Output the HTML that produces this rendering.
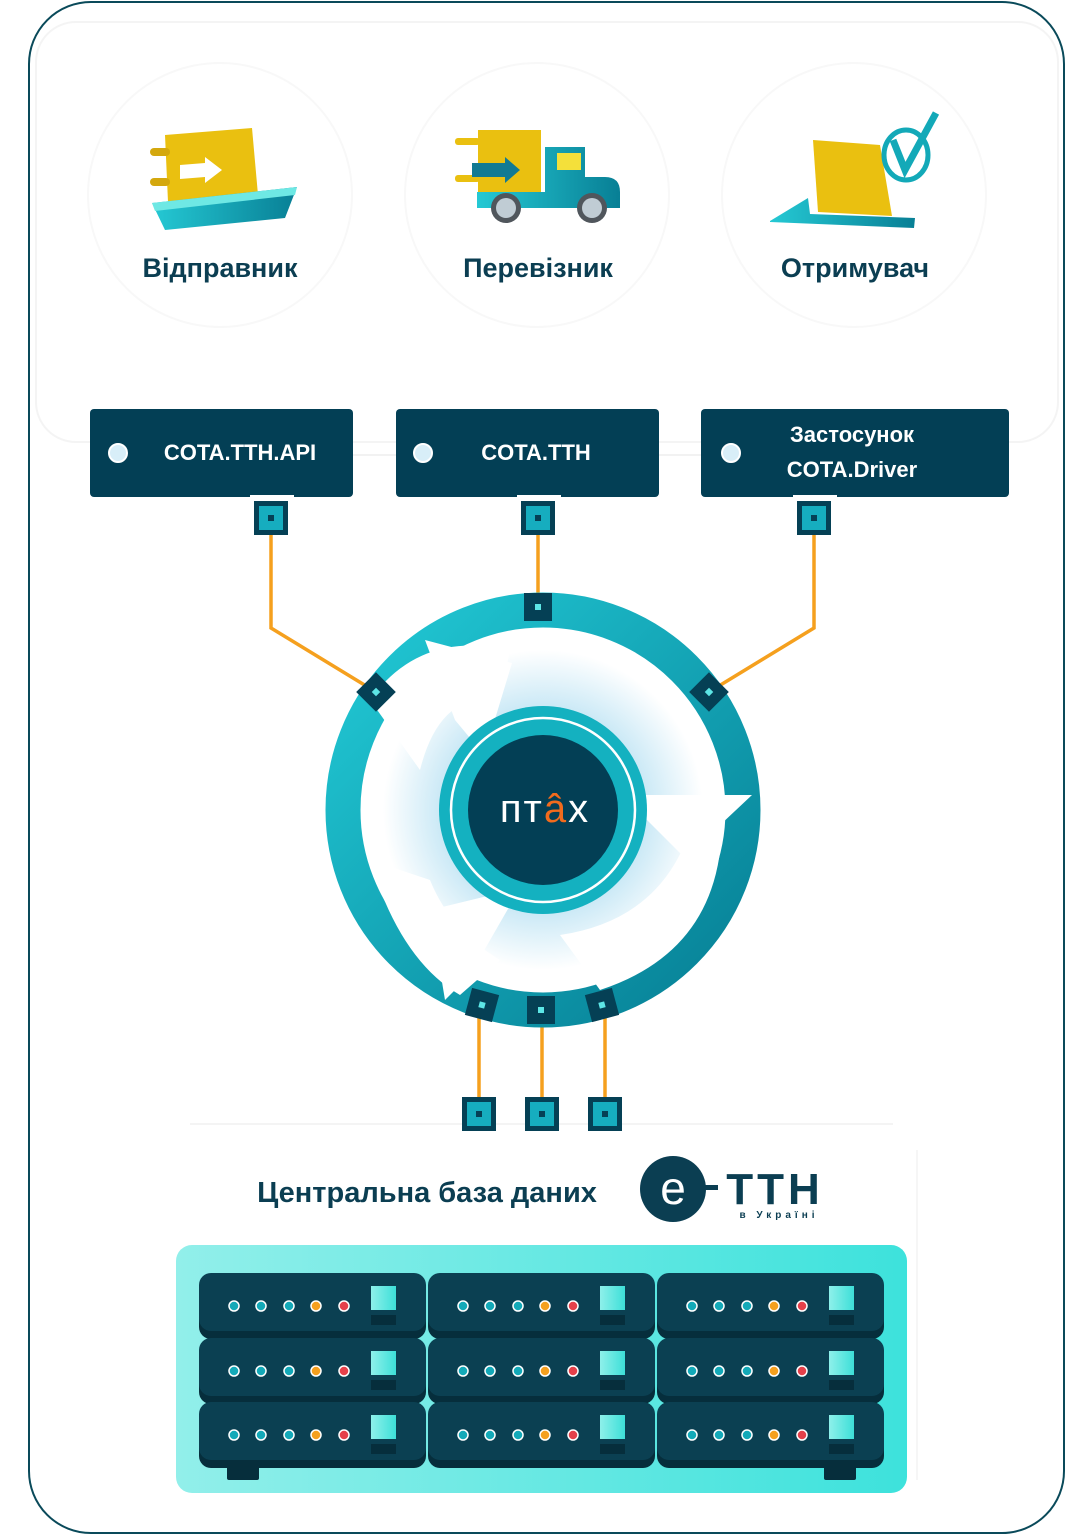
<!DOCTYPE html>
<html><head><meta charset="utf-8"><style>
html,body{margin:0;padding:0;background:#fff;}
svg{display:block}
text{font-family:"Liberation Sans","DejaVu Sans",sans-serif;}
</style></head><body>
<svg width="1092" height="1536" viewBox="0 0 1092 1536" xmlns="http://www.w3.org/2000/svg">
<defs>
<linearGradient id="ring" x1="0" y1="0" x2="1" y2="1"><stop offset="0" stop-color="#22cad6"/><stop offset="1" stop-color="#067e94"/></linearGradient>
<linearGradient id="panel" x1="0" y1="0" x2="1" y2="0"><stop offset="0" stop-color="#92efea"/><stop offset="1" stop-color="#3de2dc"/></linearGradient>
<linearGradient id="scr" x1="0" y1="0" x2="1" y2="0"><stop offset="0" stop-color="#8ef0ea"/><stop offset="1" stop-color="#3ddfd8"/></linearGradient>
<radialGradient id="glow" cx="0.5" cy="0.5" r="0.5"><stop offset="0.45" stop-color="#bfe4f4"/><stop offset="0.8" stop-color="#fff"/></radialGradient>
<linearGradient id="teal" x1="0" y1="0" x2="1" y2="0"><stop offset="0" stop-color="#25c9d4"/><stop offset="1" stop-color="#087f95"/></linearGradient>
<g id="srv">
<rect x="0" y="4" width="227" height="62" rx="12" fill="#062e3c"/>
<rect x="0" y="0" width="227" height="58" rx="12" fill="#0b4052"/>
<g stroke="#fff" stroke-width="1.5">
<circle cx="35" cy="33" r="5" fill="#13a9b8"/><circle cx="62" cy="33" r="5" fill="#13a9b8"/><circle cx="90" cy="33" r="5" fill="#13a9b8"/><circle cx="117" cy="33" r="5" fill="#f5a01e"/><circle cx="145" cy="33" r="5" fill="#e5404a"/></g>
<rect x="172" y="13" width="25" height="24" fill="url(#scr)"/>
<rect x="172" y="42" width="25" height="10" fill="#062e3c"/>
</g>
<g id="conn"><rect x="-17" y="-17" width="34" height="34" fill="#054055"/><rect x="-12" y="-12" width="24" height="24" fill="#16adbf"/><rect x="-3" y="-3" width="6" height="6" fill="#054055"/></g>
<g id="rs"><rect x="-14" y="-14" width="28" height="28" fill="#054055"/><rect x="-3" y="-3" width="6" height="6" fill="#5de6e6"/></g>
</defs>
<rect x="29" y="2" width="1035" height="1531" rx="62" fill="#fff" stroke="#0a4a5a" stroke-width="2"/>
<rect x="36" y="22" width="1022" height="420" rx="40" fill="none" stroke="#f4f4f4" stroke-width="2"/>
<circle cx="220" cy="195" r="132" fill="none" stroke="#f8f8f8" stroke-width="2"/>
<circle cx="537" cy="195" r="132" fill="none" stroke="#f8f8f8" stroke-width="2"/>
<circle cx="854" cy="195" r="132" fill="none" stroke="#f8f8f8" stroke-width="2"/>
<g>
<polygon points="165,135 252,128 258,195 168,202" fill="#eac010"/>
<rect x="150" y="148" width="20" height="8" rx="4" fill="#d4a80e"/><rect x="150" y="178" width="20" height="8" rx="4" fill="#d4a80e"/>
<polygon points="180,165 205,163 205,157 222,170 205,183 205,177 180,179" fill="#fff"/>
<polygon points="152,203 297,187 285,218 165,230" fill="url(#teal)"/>
<polygon points="152,203 297,187 295,195 155,211" fill="#6ee8e4"/>
</g>
<g>
<rect x="478" y="130" width="63" height="62" fill="#eac010"/>
<rect x="455" y="138" width="25" height="7" rx="3" fill="#eac010"/><rect x="455" y="175" width="25" height="7" rx="3" fill="#eac010"/>
<polygon points="472,163 505,163 505,157 520,170 505,183 505,177 472,177" fill="#127a93"/>
<path d="M545,147 h40 v30 h20 q15,0 15,15 v16 h-143 v-16 h68 z" fill="url(#teal)"/>
<rect x="557" y="153" width="24" height="17" fill="#f4e03a"/>
<circle cx="506" cy="208" r="15" fill="#50565c"/><circle cx="506" cy="208" r="10" fill="#c0ccd4"/>
<circle cx="592" cy="208" r="15" fill="#50565c"/><circle cx="592" cy="208" r="10" fill="#c0ccd4"/>
</g>
<g>
<polygon points="813,140 880,145 892,216 818,212" fill="#eac010"/>
<polygon points="770,221 808,198 810,214 915,218 914,228 770,222" fill="url(#teal)"/>
<ellipse cx="906" cy="155" rx="22" ry="25" fill="none" stroke="#13a9b8" stroke-width="5"/>
<polyline points="893,140 905,170 936,113" fill="none" stroke="#13a9b8" stroke-width="7"/>
</g>
<text x="220" y="277" text-anchor="middle" font-size="27" font-weight="bold" fill="#0b3e52">Відправник</text>
<text x="538" y="277" text-anchor="middle" font-size="27" font-weight="bold" fill="#0b3e52">Перевізник</text>
<text x="855" y="277" text-anchor="middle" font-size="27" font-weight="bold" fill="#0b3e52">Отримувач</text>
<line x1="352" y1="455" x2="396" y2="455" stroke="#e5e5e5"/><line x1="658" y1="455" x2="701" y2="455" stroke="#e5e5e5"/>
<rect x="90" y="409" width="263" height="88" rx="4" fill="#033f55"/>
<rect x="396" y="409" width="263" height="88" rx="4" fill="#033f55"/>
<rect x="701" y="409" width="308" height="88" rx="4" fill="#033f55"/>
<circle cx="118" cy="453" r="9" fill="#d8eef8" stroke="#fff" stroke-width="2"/>
<circle cx="423" cy="453" r="9" fill="#d8eef8" stroke="#fff" stroke-width="2"/>
<circle cx="731" cy="453" r="9" fill="#d8eef8" stroke="#fff" stroke-width="2"/>
<text x="240" y="460" text-anchor="middle" font-size="22" font-weight="bold" fill="#fff">COTA.TTH.API</text>
<text x="536" y="460" text-anchor="middle" font-size="22" font-weight="bold" fill="#fff">COTA.TTH</text>
<text x="852" y="442" text-anchor="middle" font-size="22" font-weight="bold" fill="#fff">Застосунок</text>
<text x="852" y="477" text-anchor="middle" font-size="22" font-weight="bold" fill="#fff">COTA.Driver</text>
<g stroke="#f5a01e" stroke-width="3.5" fill="none">
<polyline points="271,520 271,628 376,692"/>
<line x1="538" y1="520" x2="538" y2="607"/>
<polyline points="814,520 814,628 709,692"/>
<line x1="479" y1="1005" x2="479" y2="1112"/><line x1="542" y1="1010" x2="542" y2="1112"/><line x1="605" y1="1005" x2="605" y2="1112"/>
</g>
<rect x="250" y="495" width="44" height="8" fill="#fff"/><rect x="517" y="495" width="44" height="8" fill="#fff"/><rect x="793" y="495" width="44" height="8" fill="#fff"/>
<use href="#conn" x="271" y="518"/><use href="#conn" x="538" y="518"/><use href="#conn" x="814" y="518"/>
<circle cx="543" cy="810" r="200" fill="url(#glow)"/>
<circle cx="543" cy="810" r="200" fill="none" stroke="url(#ring)" stroke-width="35"/>
<polygon points="425,640 512,663 485,752 470,738 455,720 440,680" fill="#fff"/>
<polygon points="622,795 752,795 685,858" fill="#fff"/>
<polygon points="430,910 520,888 470,975 455,990 445,1000" fill="#fff"/>
<path d="M370,700 Q420,630 510,650 L500,700 Q440,690 420,770 Z" fill="#fff"/>
<path d="M722,820 Q722,950 600,990 L560,935 Q660,920 690,830 Z" fill="#fff"/>
<path d="M370,860 Q400,960 460,995 L500,960 Q450,930 430,880 Z" fill="#fff"/>
<circle cx="543" cy="810" r="104" fill="#14b1c0"/>
<circle cx="543" cy="810" r="92" fill="none" stroke="#fff" stroke-width="2.5"/>
<circle cx="543" cy="810" r="75" fill="#033f55"/>
<text x="545" y="822" text-anchor="middle" font-size="40" fill="#fff" letter-spacing="2">пт<tspan fill="#f26b1d">â</tspan>х</text>
<use href="#rs" x="538" y="607"/>
<g transform="translate(376,692) rotate(-45)"><use href="#rs"/></g>
<g transform="translate(709,692) rotate(45)"><use href="#rs"/></g>
<g transform="translate(482,1005) rotate(15)"><use href="#rs"/></g>
<use href="#rs" x="541" y="1010"/>
<g transform="translate(602,1005) rotate(-15)"><use href="#rs"/></g>
<line x1="190" y1="1124" x2="893" y2="1124" stroke="#e8e8e8"/>
<line x1="917" y1="1150" x2="917" y2="1480" stroke="#eeeeee"/>
<use href="#conn" x="479" y="1114"/><use href="#conn" x="542" y="1114"/><use href="#conn" x="605" y="1114"/>
<text x="427" y="1202" text-anchor="middle" font-size="29" font-weight="bold" fill="#0b3e52">Центральна база даних</text>
<circle cx="673" cy="1189" r="33" fill="#0b3e52"/>
<text x="673" y="1204" text-anchor="middle" font-size="46" fill="#fff">e</text>
<rect x="690" y="1185" width="28" height="5" fill="#0b3e52"/>
<text x="775" y="1204" text-anchor="middle" font-size="44" font-weight="bold" fill="#0b3e52" letter-spacing="4">ТТН</text>
<text x="779" y="1218" text-anchor="middle" font-size="10" font-weight="bold" fill="#0b3e52" letter-spacing="4">в Україні</text>
<rect x="176" y="1245" width="731" height="248" rx="16" fill="url(#panel)"/>
<rect x="227" y="1460" width="32" height="20" rx="2" fill="#062e3c"/><rect x="824" y="1460" width="32" height="20" rx="2" fill="#062e3c"/>
<use href="#srv" x="199" y="1273"/><use href="#srv" x="428" y="1273"/><use href="#srv" x="657" y="1273"/>
<use href="#srv" x="199" y="1338"/><use href="#srv" x="428" y="1338"/><use href="#srv" x="657" y="1338"/>
<use href="#srv" x="199" y="1402"/><use href="#srv" x="428" y="1402"/><use href="#srv" x="657" y="1402"/>
</svg>
</body></html>
